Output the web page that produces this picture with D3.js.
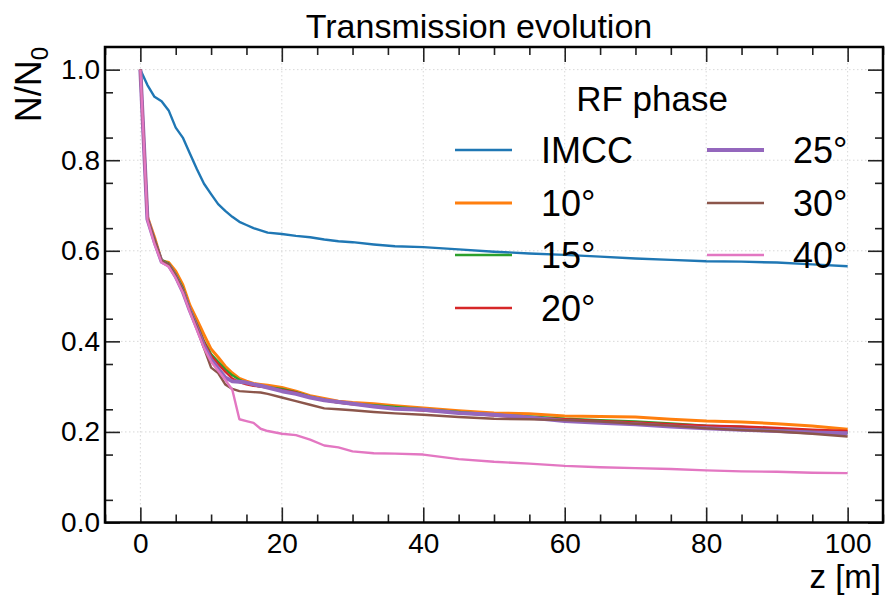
<!DOCTYPE html>
<html>
<head>
<meta charset="utf-8">
<script src="https://cdn.jsdelivr.net/npm/d3@7"></script>
<style>
  body { margin: 0; background: #fff; }
  svg { font-family: "Liberation Sans", Arial, sans-serif; }
</style>
</head>
<body>
<div id="chart"></div>
<script>
// z positions (m)
var zPos = [0,1,2,3,4,5,6,7,8,9,10,11,12,13,14,15,16,17,18,20,22,24,26,28,30,33,36,40,45,50,55,60,65,70,75,80,85,90,95,100];

var imcc = [1.000,0.966,0.940,0.930,0.910,0.872,0.850,0.815,0.780,0.748,0.725,0.703,0.688,0.675,0.664,0.657,0.650,0.645,0.640,0.637,0.633,0.630,0.625,0.621,0.619,0.614,0.610,0.608,0.603,0.598,0.594,0.591,0.587,0.583,0.580,0.577,0.576,0.574,0.570,0.566];
var ph10 = [1.000,0.675,0.630,0.578,0.574,0.555,0.525,0.480,0.448,0.415,0.383,0.365,0.345,0.330,0.318,0.312,0.307,0.305,0.303,0.298,0.290,0.280,0.274,0.268,0.265,0.262,0.258,0.253,0.247,0.242,0.240,0.235,0.234,0.233,0.228,0.224,0.222,0.218,0.213,0.206];
var ph15 = [1.000,0.672,0.625,0.580,0.572,0.548,0.518,0.472,0.438,0.400,0.372,0.355,0.338,0.325,0.315,0.308,0.303,0.300,0.299,0.295,0.288,0.278,0.271,0.265,0.262,0.259,0.255,0.250,0.244,0.238,0.234,0.229,0.226,0.223,0.219,0.214,0.211,0.207,0.203,0.198];
var ph20 = [1.000,0.670,0.622,0.577,0.570,0.545,0.515,0.470,0.436,0.398,0.368,0.350,0.333,0.318,0.310,0.305,0.302,0.300,0.298,0.293,0.287,0.277,0.270,0.265,0.261,0.257,0.252,0.247,0.242,0.236,0.232,0.228,0.224,0.221,0.217,0.214,0.212,0.209,0.205,0.202];
var ph25 = [1.000,0.670,0.620,0.576,0.568,0.543,0.510,0.468,0.430,0.390,0.360,0.340,0.320,0.312,0.311,0.309,0.305,0.302,0.298,0.290,0.284,0.276,0.270,0.266,0.262,0.256,0.251,0.249,0.242,0.238,0.232,0.224,0.220,0.217,0.212,0.208,0.205,0.202,0.199,0.197];
var ph30 = [1.000,0.672,0.625,0.578,0.570,0.545,0.512,0.468,0.430,0.385,0.342,0.330,0.305,0.295,0.290,0.289,0.288,0.287,0.284,0.276,0.268,0.260,0.252,0.250,0.248,0.244,0.241,0.238,0.233,0.229,0.228,0.226,0.223,0.218,0.214,0.208,0.204,0.201,0.196,0.190];
var ph40 = [1.000,0.668,0.615,0.574,0.565,0.540,0.508,0.465,0.425,0.385,0.355,0.335,0.315,0.293,0.228,0.224,0.220,0.207,0.202,0.196,0.193,0.183,0.170,0.166,0.157,0.153,0.152,0.150,0.140,0.134,0.130,0.125,0.122,0.120,0.118,0.115,0.113,0.112,0.110,0.109];

var seriesNames = ["IMCC", "10°", "15°", "20°", "25°", "30°", "40°"];
var seriesVals = [imcc, ph10, ph15, ph20, ph25, ph30, ph40];
var colors = ["#1f77b4", "#ff7f0e", "#2ca02c", "#d62728", "#9467bd", "#8c564b", "#e377c2"];
var widths = [2.4, 3, 2.4, 2.4, 4, 2.4, 2.4];

var xTicks = [0, 20, 40, 60, 80, 100];
var yTicks = [0.0, 0.2, 0.4, 0.6, 0.8, 1.0];

var W = 885, H = 599;
var pLeft = 105, pRight = 883, pTop = 47, pBottom = 522.5;

var svg = d3.select("#chart").append("svg")
    .attr("width", W)
    .attr("height", H);

var x = d3.scaleLinear().domain([-5, 105]).range([pLeft, pRight]);
var y = d3.scaleLinear().domain([0, 1.05]).range([pBottom, pTop]);

// grid
svg.append("g").selectAll("line")
    .data(xTicks).enter().append("line")
    .attr("x1", d => x(d)).attr("x2", d => x(d))
    .attr("y1", pTop).attr("y2", pBottom)
    .attr("stroke", "#d8d8d8").attr("stroke-width", 1).attr("stroke-dasharray", "1.5,2.5");
svg.append("g").selectAll("line")
    .data(yTicks).enter().append("line")
    .attr("x1", pLeft).attr("x2", pRight)
    .attr("y1", d => y(d)).attr("y2", d => y(d))
    .attr("stroke", "#d8d8d8").attr("stroke-width", 1).attr("stroke-dasharray", "1.5,2.5");

// lines
var line = d3.line()
    .x((d, i) => x(zPos[i]))
    .y(d => y(d));

var g = svg.append("g");
seriesVals.forEach(function(vals, k) {
    g.append("path")
        .datum(vals)
        .attr("fill", "none")
        .attr("stroke", colors[k])
        .attr("stroke-width", widths[k])
        .attr("stroke-linejoin", "round")
        .attr("d", line);
});

// axes: major and minor ticks, pointing inward, on all four sides
var xMinor = d3.range(-5, 106, 5).filter(d => xTicks.indexOf(d) < 0);
var yMinor = [0.05, 0.15, 0.25, 0.35, 0.45, 0.55, 0.65, 0.75, 0.85, 0.95];

function styleAxis(sel) {
    sel.select(".domain").remove();
    sel.selectAll(".tick line").attr("stroke", "#222").attr("stroke-width", 1.6);
    sel.selectAll(".tick text").style("font-size", "28px").attr("fill", "#000")
        .style("font-family", "Liberation Sans, Arial, sans-serif");
}

svg.append("g").attr("transform", "translate(0," + pBottom + ")")
    .call(d3.axisBottom(x).tickValues(xTicks).tickFormat(d3.format("d")).tickSize(-15).tickPadding(11))
    .call(styleAxis);
svg.append("g").attr("transform", "translate(0," + pBottom + ")")
    .call(d3.axisBottom(x).tickValues(xMinor).tickFormat("").tickSize(-8))
    .call(styleAxis);
svg.append("g").attr("transform", "translate(0," + pTop + ")")
    .call(d3.axisTop(x).tickValues(xTicks).tickFormat("").tickSize(-15))
    .call(styleAxis);
svg.append("g").attr("transform", "translate(0," + pTop + ")")
    .call(d3.axisTop(x).tickValues(xMinor).tickFormat("").tickSize(-8))
    .call(styleAxis);

svg.append("g").attr("transform", "translate(" + pLeft + ",0)")
    .call(d3.axisLeft(y).tickValues(yTicks).tickFormat(d3.format(".1f")).tickSize(-15).tickPadding(5))
    .call(styleAxis);
svg.append("g").attr("transform", "translate(" + pLeft + ",0)")
    .call(d3.axisLeft(y).tickValues(yMinor).tickFormat("").tickSize(-8))
    .call(styleAxis);
svg.append("g").attr("transform", "translate(" + pRight + ",0)")
    .call(d3.axisRight(y).tickValues(yTicks).tickFormat("").tickSize(-15))
    .call(styleAxis);
svg.append("g").attr("transform", "translate(" + pRight + ",0)")
    .call(d3.axisRight(y).tickValues(yMinor).tickFormat("").tickSize(-8))
    .call(styleAxis);

// frame
svg.append("rect")
    .attr("x", pLeft).attr("y", pTop)
    .attr("width", pRight - pLeft).attr("height", pBottom - pTop)
    .attr("fill", "none").attr("stroke", "#000").attr("stroke-width", 2.5);

// title
svg.append("text")
    .attr("x", 479).attr("y", 38)
    .attr("text-anchor", "middle")
    .attr("font-size", 34)
    .text("Transmission evolution");

// y label
var yl = svg.append("text")
    .attr("transform", "translate(41,47) rotate(-90)")
    .attr("text-anchor", "end")
    .attr("font-size", 36);
yl.append("tspan").text("N/N");
yl.append("tspan").attr("font-size", 24).attr("dy", 7).text("0");

// x label
svg.append("text")
    .attr("x", 881).attr("y", 588)
    .attr("text-anchor", "end")
    .attr("font-size", 33)
    .text("z [m]");

// legend
var legTitle = "RF phase";
svg.append("text")
    .attr("x", 652).attr("y", 111)
    .attr("text-anchor", "middle")
    .attr("font-size", 35)
    .text(legTitle);

var rowY = [150, 203, 255, 308];
var colX = [455, 707];
var legItems = svg.append("g").selectAll("g")
    .data(seriesNames).enter().append("g")
    .attr("transform", function(d, i) {
        var col = i < 4 ? 0 : 1;
        var row = i < 4 ? i : i - 4;
        return "translate(" + colX[col] + "," + rowY[row] + ")";
    });
legItems.append("line")
    .attr("x1", 0).attr("x2", 57)
    .attr("stroke", (d, i) => colors[i])
    .attr("stroke-width", (d, i) => widths[i]);
legItems.append("text")
    .attr("x", 86).attr("y", 13)
    .attr("font-size", 36)
    .text(d => d);
</script>
</body>
</html>
